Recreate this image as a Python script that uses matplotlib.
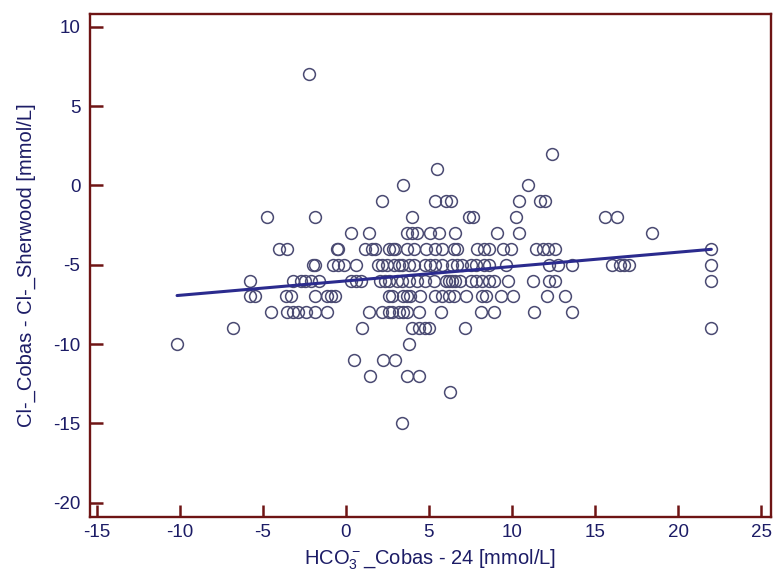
import numpy as np
import matplotlib
matplotlib.use('Agg')
import matplotlib.pyplot as plt

plt.rcParams['font.family'] = ['Liberation Sans', 'DejaVu Sans']
plt.rcParams['mathtext.default'] = 'regular'
plt.rcParams['axes.unicode_minus'] = False

# x values (HCO3- Cobas - 24) grouped by their integer y value (Cl- difference)
rows = {
    7: [-2.23],
    2: [12.4],
    1: [5.5],
    0: [3.47, 10.95],
    -1: [2.2, 5.35, 6.0, 6.3, 10.44, 11.7, 12.0],
    -2: [-4.77, -1.88, 3.98, 7.41, 7.66, 10.24, 15.6, 16.3],
    -3: [0.3, 1.39, 3.68, 3.98, 4.28, 5.09, 5.6, 6.6, 9.07, 10.44, 18.4],
    -4: [-4.0, -3.55, -0.56, -0.46, 1.15, 1.56, 1.76, 2.57, 2.81, 2.97, 3.68,
         4.08, 4.83, 5.39, 5.8, 6.5, 6.71, 7.92, 8.32, 8.62, 9.43, 9.94,
         11.45, 11.86, 12.16, 12.57, 21.96],
    -5: [-1.98, -1.88, -0.77, -0.46, -0.1, 0.6, 1.96, 2.16, 2.47, 2.87, 3.17,
         3.37, 3.78, 4.08, 4.79, 5.09, 5.39, 5.8, 6.4, 6.71, 7.01, 7.52, 7.82,
         8.32, 8.62, 9.64, 12.2, 12.8, 13.6, 16.0, 16.5, 16.75, 17.07, 22.0],
    -6: [-5.76, -3.19, -2.69, -2.48, -2.08, -1.64, 0.3, 0.6, 0.9, 2.06, 2.36,
         2.57, 3.07, 3.37, 3.78, 4.28, 4.79, 5.29, 6.0, 6.2, 6.4, 6.6, 6.9,
         7.52, 7.82, 8.22, 8.62, 8.93, 9.74, 11.25, 12.2, 12.6, 22.0],
    -7: [-5.76, -5.47, -3.6, -3.3, -1.88, -1.11, -0.87, -0.67, 2.57, 2.77,
         3.47, 3.68, 3.88, 4.48, 5.39, 5.8, 6.2, 6.5, 7.21, 8.22, 8.42, 9.33,
         10.04, 12.1, 13.17],
    -8: [-4.5, -3.54, -3.19, -2.89, -2.38, -1.84, -1.11, 1.39, 2.16, 2.57,
         2.77, 3.17, 3.47, 3.68, 4.38, 5.7, 8.12, 8.93, 11.3, 13.6],
    -9: [-6.79, 0.95, 3.98, 4.38, 4.79, 4.99, 7.17, 22.0],
    -10: [-10.16, 3.78],
    -11: [0.5, 2.26, 2.97],
    -12: [1.45, 3.68, 4.38],
    -13: [6.27],
    -15: [3.37],
}

x = np.array([v for k in rows for v in rows[k]])
y = np.array([k for k in rows for v in rows[k]], dtype=float)

xticks = [-15, -10, -5, 0, 5, 10, 15, 20, 25]
yticks = [-20, -15, -10, -5, 0, 5, 10]

spine_col = '#6e1414'
text_col = '#1c1c66'

fig = plt.figure(figsize=(7.74, 5.78), dpi=100)
ax = fig.add_axes([0.1163, 0.1055, 0.8800, 0.8703])

ax.plot(x, y, linestyle='none', marker='o', markersize=8.5,
        markerfacecolor='none', markeredgecolor='#4a4a72', markeredgewidth=1.1)

# least squares regression line over the data range
slope, icpt = np.polyfit(x, y, 1)
xl = np.array([x.min(), x.max()])
ax.plot(xl, icpt + slope * xl, color='#2b2b8e', linewidth=2.2, solid_capstyle='round')

ax.set_xlim(-15.4, 25.6)
ax.set_ylim(-20.9, 10.8)
ax.set_xticks(xticks)
ax.set_yticks(yticks)

for s in ax.spines.values():
    s.set_color(spine_col)
    s.set_linewidth(1.7)
ax.tick_params(direction='in', length=9, width=1.8, color=spine_col,
               labelcolor=text_col, labelsize=13.5)
ax.tick_params(axis='y', pad=7)
ax.tick_params(axis='x', pad=5)

ax.set_xlabel('HCO$_3^-$_Cobas - 24 [mmol/L]', color=text_col, fontsize=14.5, labelpad=5)
ax.set_ylabel('Cl-_Cobas - Cl-_Sherwood [mmol/L]', color=text_col, fontsize=14.5, labelpad=12)

fig.savefig('out.png', dpi=100)
